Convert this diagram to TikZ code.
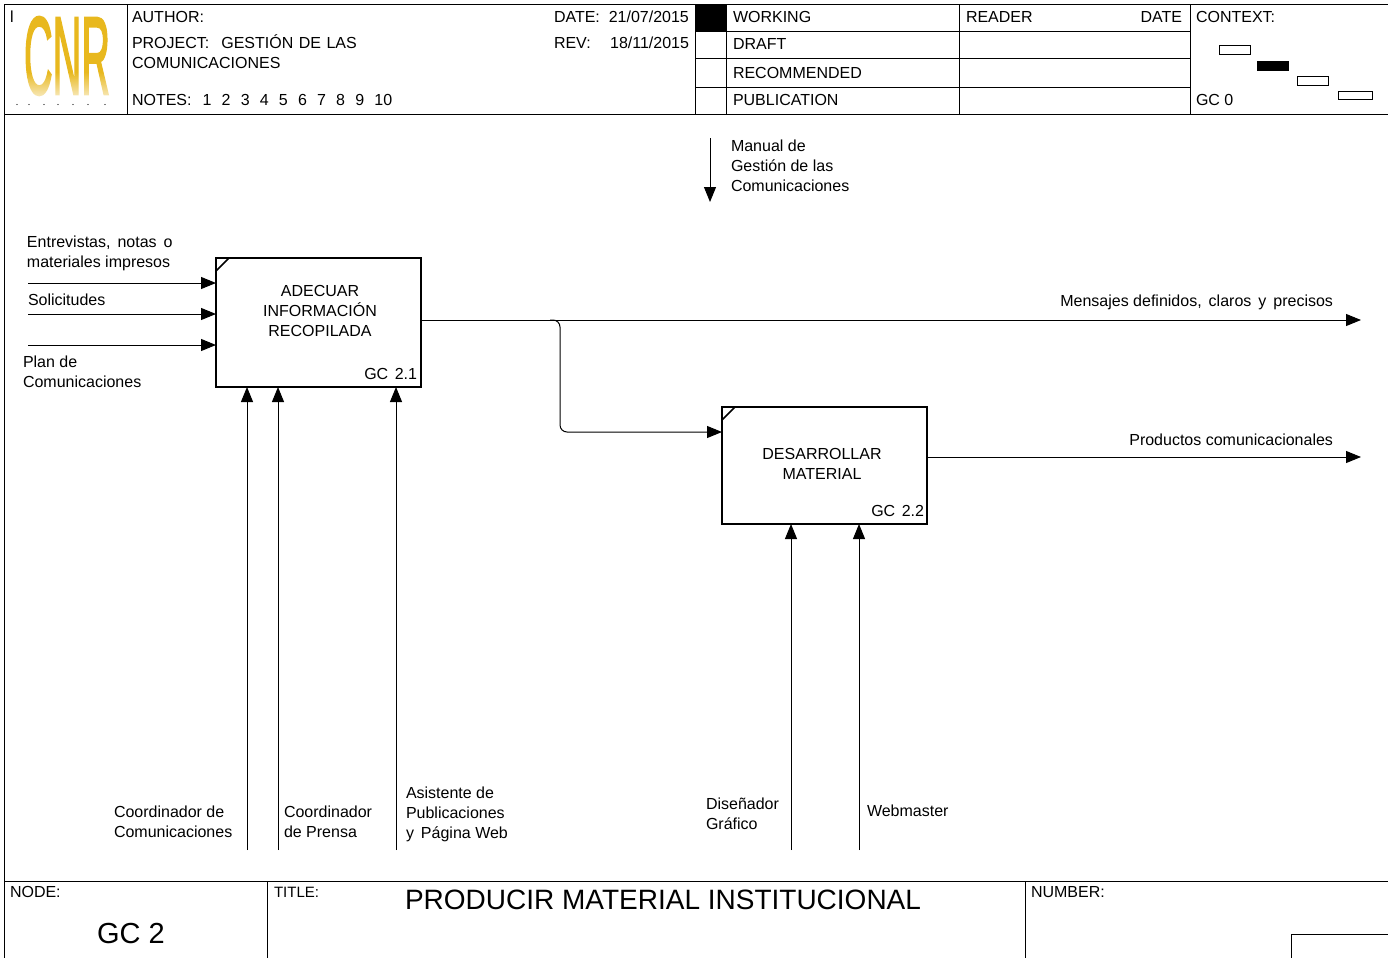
\documentclass[tikz,border=0pt]{standalone}
\usepackage{graphicx}
\usepackage{fontspec}
\setmainfont{Liberation Sans}
\newfontfamily\logofont[FakeBold=2.5]{Liberation Sans}
\usetikzlibrary{arrows.meta,fadings}
\definecolor{cnrgold}{RGB}{232,184,30}

\begin{document}
\begin{tikzpicture}[x=1pt, y=-1pt,
    every node/.style={inner sep=0pt, outer sep=0pt, font=\fontsize{16}{20}\selectfont},
    rule/.style={line width=1pt},
    flow/.style={line width=1pt, -{Triangle[length=15pt,width=12pt]}},
    activity/.style={draw, line width=2pt, minimum width=205pt},
    label/.style={align=left, anchor=west},
    mid/.style={align=center, anchor=center},
    tag/.style={anchor=base east},
    head/.style={anchor=base west},
    gantt/.style={draw, line width=1pt, minimum width=31pt, minimum height=9pt}]
  \useasboundingbox (0,0) rectangle (1388,958);

  % header and footer
  \draw[rule] (1388,5) -- (4,5) -- (4,958);
  \draw[rule] (4,114) -- (1388,114);
  \draw[rule] (4,881) -- (1388,881);
  \draw[rule] (127,5) -- (127,114);
  \draw[rule] (695,5) -- (695,114);
  \draw[rule] (726,5) -- (726,114);
  \draw[rule] (959,5) -- (959,114);
  \draw[rule] (1190,5) -- (1190,114);
  \foreach \y in {32,59,87} \draw[rule] (695,\y) -- (1190,\y);
  \draw[rule] (267,881) -- (267,958);
  \draw[rule] (1025,881) -- (1025,958);
  \draw[rule] (1388,934) -- (1291,934) -- (1291,958);
  \fill (695,5) rectangle (726,32);

  % logo
  \node[text=cnrgold, font=\logofont] (logo) at (67,56) {\resizebox{86pt}{77pt}{CNR}};
  \fill[white, opacity=0.7, path fading=north] (24,72) rectangle (112,97);
  \node[head] (cut) at (10,23) {l};
  \foreach \x in {17,29,44,58,73,88,105} \fill (\x,104.5) circle (0.7pt);

  % header texts
  \node[head] (author) at (132,23) {AUTHOR:};
  \node[head] (project) at (132,48.5) {PROJECT:\hspace{12pt}GESTIÓN\hspace{5.5pt}DE\hspace{5.5pt}LAS};
  \node[head] (projectb) at (132,68) {COMUNICACIONES};
  \node[head] (notes) at (132,105) {NOTES:\hspace{11pt}1\hspace{10.2pt}2\hspace{10.2pt}3\hspace{10.2pt}4\hspace{10.2pt}5\hspace{10.2pt}6\hspace{10.2pt}7\hspace{10.2pt}8\hspace{10.2pt}9\hspace{10.2pt}10};
  \node[head] (date) at (554,23) {DATE:\ \ 21/07/2015};
  \node[head] (rev) at (554,48.5) {REV:};
  \node[tag] (revdate) at (689,48.5) {18/11/2015};
  \node[head] (working) at (733,23) {WORKING};
  \node[head] (draft) at (733,50) {DRAFT};
  \node[head] (recommended) at (733,78) {RECOMMENDED};
  \node[head] (publication) at (733,105) {PUBLICATION};
  \node[head] (reader) at (966,23) {READER};
  \node[tag] (readerdate) at (1182,23) {DATE};
  \node[head] (context) at (1196,23) {CONTEXT:};
  \node[head] (gczero) at (1196,105) {GC 0};
  \node[gantt] (g1) at (1234.5,50.5) {};
  \node[gantt, fill=black] (g2) at (1272.5,66) {};
  \node[gantt] (g3) at (1313,81) {};
  \node[gantt, minimum width=34pt, minimum height=8pt] (g4) at (1355,95) {};

  % activities
  \node[activity, minimum height=129pt] (adecuar) at (318.5,322.5) {};
  \node[activity, minimum height=117pt] (desarrollar) at (824.5,465.5) {};
  \draw[line width=1.6pt] (229,258) -- (216,271);
  \draw[line width=1.6pt] (735,407) -- (722,420);
  \node[mid] (adecuartext) at (320,311) {ADECUAR\\INFORMACIÓN\\RECOPILADA};
  \node[mid] (desarrollartext) at (822,464) {DESARROLLAR\\MATERIAL};
  \node[tag] (gcone) at (417,379) {GC\hspace{6.5pt}2.1};
  \node[tag] (gctwo) at (924,516) {GC\hspace{6.5pt}2.2};

  % free ends of the arrows
  \coordinate (in1) at (28,283);
  \coordinate (in2) at (28,314);
  \coordinate (in3) at (28,345);
  \coordinate (out1) at (1361,320);
  \coordinate (out2) at (1361,457);
  \coordinate (top) at (710,138);
  \coordinate (topend) at (710,202);
  \coordinate (c1) at (247,850);
  \coordinate (c2) at (278,850);
  \coordinate (c3) at (396,850);
  \coordinate (c4) at (791,850);
  \coordinate (c5) at (859,850);
  \coordinate (split) at (550,320);
  \coordinate (turn) at (560,320);

  \draw[flow] (in1) -- (adecuar.west |- in1);
  \draw[flow] (in2) -- (adecuar.west |- in2);
  \draw[flow] (in3) -- (adecuar.west |- in3);
  \draw[flow] (adecuar.east |- out1) -- (out1);
  \draw[flow] (desarrollar.east |- out2) -- (out2);
  \draw[flow] (top) -- (topend);
  \draw[flow] (c1) -- (c1 |- adecuar.south);
  \draw[flow] (c2) -- (c2 |- adecuar.south);
  \draw[flow] (c3) -- (c3 |- adecuar.south);
  \draw[flow] (c4) -- (c4 |- desarrollar.south);
  \draw[flow] (c5) -- (c5 |- desarrollar.south);
  \draw[flow, rounded corners=7pt] (split) -- (turn) |- (desarrollar.west |- 0,432);

  % arrow labels
  \node[label] (lmanual) at (731,165.5) {Manual de\\Gestión de las\\Comunicaciones};
  \node[label] (lentrev) at (27,253) {Entrevistas,\hspace{7pt}notas\hspace{7pt}o\\materiales impresos};
  \node[label] (lsolic) at (28,299.5) {Solicitudes};
  \node[label] (lplan) at (23,371.5) {Plan de\\Comunicaciones};
  \node[tag] (lmens) at (1333,306) {Mensajes definidos,\hspace{7pt}claros\hspace{7pt}y\hspace{7pt}precisos};
  \node[tag] (lprod) at (1333,445) {Productos comunicacionales};
  \node[label] (lcoord) at (114,821.5) {Coordinador de\\Comunicaciones};
  \node[label] (lprensa) at (284,821.5) {Coordinador\\de Prensa};
  \node[label] (lasist) at (406,814) {Asistente de\\Publicaciones\\y\hspace{7pt}Página Web};
  \node[label] (ldisen) at (706,813.5) {Diseñador\\Gráfico};
  \node[label] (lweb) at (867,810.5) {Webmaster};

  % footer texts
  \node[head] (nodelabel) at (10,897) {NODE:};
  \node[head, font=\fontsize{15}{20}\selectfont] (titlelabel) at (274,897) {TITLE:};
  \node[head] (numberlabel) at (1031,897) {NUMBER:};
  \node[anchor=base west, font=\fontsize{28}{30}\selectfont] (title) at (405,909) {PRODUCIR MATERIAL INSTITUCIONAL};
  \node[anchor=base west, font=\fontsize{29}{30}\selectfont] (nodename) at (97,943) {GC 2};
\end{tikzpicture}
\end{document}
